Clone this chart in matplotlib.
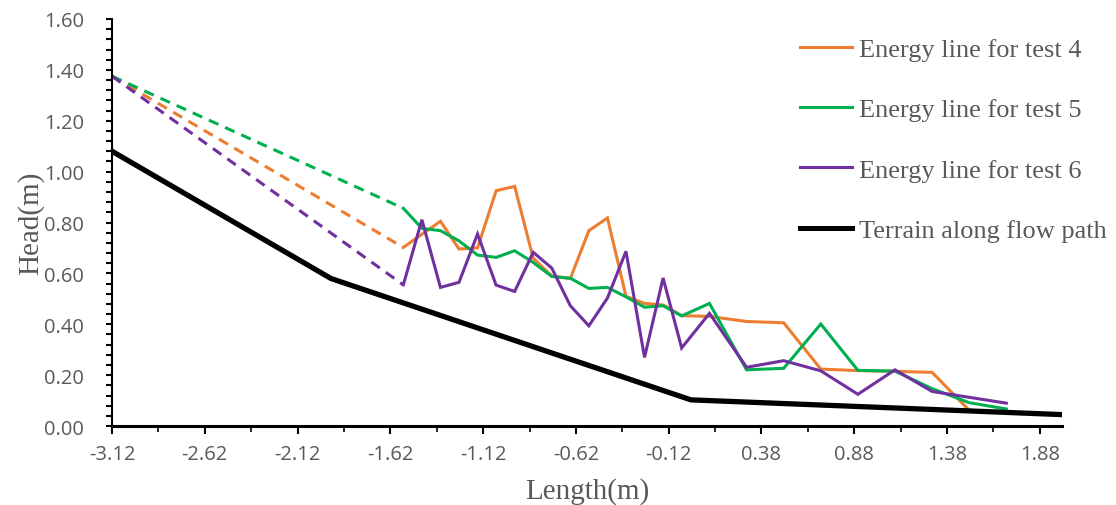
import numpy as np
import matplotlib
matplotlib.use("Agg")
import matplotlib.pyplot as plt
from matplotlib.lines import Line2D
from matplotlib.ticker import MultipleLocator, FormatStrFormatter

# Upstream reference point shared by all energy lines
x_upstream = -3.12
head_upstream = 1.375

# Measurement stations along the flow path (m)
x_stations = [-1.55, -1.45, -1.35, -1.25, -1.15, -1.05, -0.95, -0.85,
              -0.75, -0.65, -0.55, -0.45, -0.35, -0.25, -0.15, -0.05,
              0.10, 0.30, 0.50, 0.70, 0.90, 1.10, 1.30, 1.50, 1.70]

# Energy head at each station (m)
head_test4 = [0.702, 0.754, 0.805, 0.696, 0.700, 0.925, 0.942, 0.660,
              0.590, 0.580, 0.768, 0.818, 0.510, 0.482, 0.476, 0.434,
              0.431, 0.411, 0.406, 0.224, 0.218, 0.215, 0.211, 0.062, np.nan]
head_test5 = [0.856, 0.777, 0.768, 0.728, 0.672, 0.663, 0.689, 0.643,
              0.588, 0.581, 0.541, 0.545, 0.508, 0.467, 0.473, 0.433,
              0.482, 0.221, 0.227, 0.401, 0.219, 0.216, 0.147, 0.092, 0.067]
head_test6 = [0.555, 0.811, 0.545, 0.565, 0.755, 0.554, 0.529, 0.683,
              0.621, 0.473, 0.394, 0.503, 0.687, 0.270, 0.582, 0.307,
              0.443, 0.231, 0.257, 0.217, 0.125, 0.221, 0.136, 0.113, 0.090]

# Terrain profile
x_terrain = [-3.12, -1.94, 0.00, 2.00]
z_terrain = [1.080, 0.580, 0.103, 0.045]

series_labels = ["Energy line for test 4", "Energy line for test 5",
                 "Energy line for test 6", "Terrain along flow path"]
series_colors = ["#ED7D31", "#00B050", "#7030A0", "#000000"]

grey = "#595959"
tick_font = "Open Sans"
label_font = "Liberation Serif"

fig = plt.figure(figsize=(11.16, 5.06), dpi=100)
ax = fig.add_axes([0.1004, 0.156, 0.8512, 0.8045])

lw = 2.2
for heads, color in zip([head_test4, head_test5, head_test6], series_colors[:3]):
    # dashed link from the upstream point to the first station
    ax.plot([x_upstream, x_stations[0]], [head_upstream, heads[0]],
            color=color, lw=lw, linestyle=(0, (3.4, 2.4)),
            solid_capstyle="butt", dash_capstyle="butt")
    ax.plot(x_stations, heads, color=color, lw=lw, solid_joinstyle="miter")

ax.plot(x_terrain, z_terrain, color=series_colors[3], lw=3.8)

ax.set_xlim(-3.12, 2.00)
ax.set_ylim(0, 1.60)

ax.set_xticks(np.round(np.arange(-3.12, 1.89, 0.5), 2))
ax.xaxis.set_minor_locator(MultipleLocator(0.25, offset=-3.12 % 0.25))
ax.xaxis.set_major_formatter(FormatStrFormatter("%.2f"))
ax.yaxis.set_major_locator(MultipleLocator(0.2))
ax.yaxis.set_minor_locator(MultipleLocator(0.04))
ax.yaxis.set_major_formatter(FormatStrFormatter("%.2f"))

for s in ["top", "right"]:
    ax.spines[s].set_visible(False)
ax.spines["left"].set_linewidth(1.5)
ax.spines["bottom"].set_linewidth(2.2)

ax.tick_params(axis="both", which="both", direction="out", color="black",
               labelcolor=grey)
ax.tick_params(axis="x", which="major", length=6, width=1.5, pad=7)
ax.tick_params(axis="x", which="minor", length=4, width=1.2)
ax.tick_params(axis="y", which="major", length=4, width=1.5, pad=16)
ax.tick_params(axis="y", which="minor", length=4, width=1.5)
for lab in ax.get_xticklabels() + ax.get_yticklabels():
    lab.set_fontfamily(tick_font)
    lab.set_fontsize(14.5)

ax.set_xlabel("Length(m)", family=label_font, fontsize=21, color=grey, labelpad=9)
ax.set_ylabel("Head(m)", family=label_font, fontsize=21, color=grey, labelpad=0)

handles = [Line2D([], [], color=c, lw=(3.6 if c == "#000000" else 2.2))
           for c in series_colors]
leg = ax.legend(handles, series_labels, loc="upper left",
                bbox_to_anchor=(0.707, 0.945), bbox_transform=fig.transFigure,
                frameon=False, handlelength=2.0, handletextpad=0.25,
                labelspacing=1.4, borderaxespad=0,
                prop={"family": label_font, "size": 19})
for t in leg.get_texts():
    t.set_color(grey)

fig.savefig("out.png", dpi=100)
